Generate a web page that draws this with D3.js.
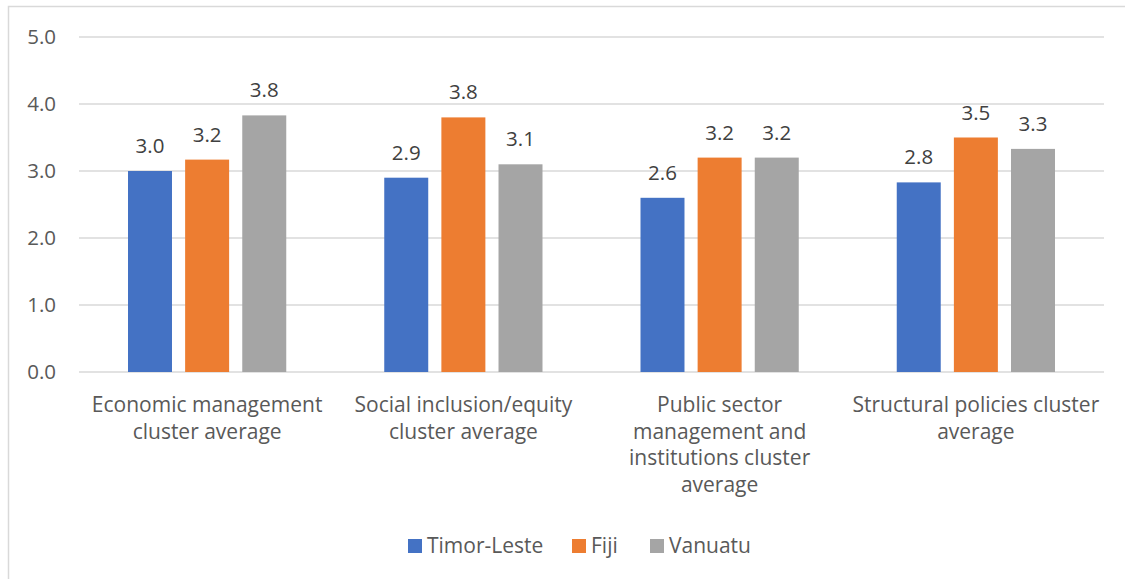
<!DOCTYPE html>
<html>
<head>
<meta charset="utf-8">
<script src="https://cdn.jsdelivr.net/npm/d3@7"></script>
<style>
  body { margin: 0; background: #fff; }
  svg { display: block; font-family: "Open Sans", sans-serif; }
</style>
</head>
<body>
<div id="chart"></div>
<script>
// chart data
var categories = [
  "Economic management\ncluster average",
  "Social inclusion/equity\ncluster average",
  "Public sector\nmanagement and\ninstitutions cluster\naverage",
  "Structural policies cluster\naverage"
];
var seriesNames = ["Timor-Leste", "Fiji", "Vanuatu"];
var timorLeste = [3.0, 2.9, 2.6, 2.83];
var fiji = [3.17, 3.8, 3.2, 3.5];
var vanuatu = [3.83, 3.1, 3.2, 3.33];
var yTicks = [0, 1, 2, 3, 4, 5];

var colors = ["#4472C4", "#ED7D31", "#A5A5A5"];
var seriesValues = [timorLeste, fiji, vanuatu];

var W = 1125, H = 579;
var margin = {top: 37, left: 79, right: 21, bottom: 207};
var width = W - margin.left - margin.right,
    height = H - margin.top - margin.bottom;
var fontSize = 21;

var svg = d3.select("#chart")
  .append("svg")
    .attr("width", W)
    .attr("height", H);

// chart frame (runs off the right and bottom edges)
svg.append("rect")
  .attr("x", 8.5)
  .attr("y", 6.5)
  .attr("width", W)
  .attr("height", H)
  .attr("fill", "#fff")
  .attr("stroke", "#d9d9d9")
  .attr("stroke-width", 1.5);

var g = svg.append("g")
  .attr("transform", "translate(" + margin.left + "," + margin.top + ")");

var x0 = d3.scaleBand()
  .domain(d3.range(categories.length))
  .range([0, width]);

var x1 = d3.scaleBand()
  .domain(d3.range(seriesNames.length))
  .range([49, x0.bandwidth() - 49])
  .paddingInner(0.23);

var y = d3.scaleLinear()
  .domain([0, 5])
  .range([height, 0]);

// gridlines
g.append("g")
  .selectAll("line")
  .data(yTicks)
  .enter()
  .append("line")
    .attr("x1", 0)
    .attr("x2", width)
    .attr("y1", function (d) { return y(d); })
    .attr("y2", function (d) { return y(d); })
    .attr("stroke", "#d9d9d9")
    .attr("stroke-width", 1.5);

// y axis labels
var yAxis = g.append("g")
  .attr("transform", "translate(-23,0)")
  .call(d3.axisLeft(y).tickValues(yTicks).tickFormat(d3.format(".1f")).tickSize(0).tickPadding(0));
yAxis.select(".domain").remove();
yAxis.selectAll("text")
  .attr("font-family", "Open Sans, sans-serif")
  .attr("font-size", 20.5)
  .attr("fill", "#595959");

// bars
var groups = g.append("g")
  .selectAll("g")
  .data(categories)
  .enter()
  .append("g")
    .attr("transform", function (d, i) { return "translate(" + x0(i) + ",0)"; });

var cells = function (d, i) {
  return seriesValues.map(function (s, k) { return {k: k, v: s[i]}; });
};

groups.selectAll("rect")
  .data(cells)
  .enter()
  .append("rect")
    .attr("x", function (d) { return x1(d.k); })
    .attr("y", function (d) { return y(d.v); })
    .attr("width", x1.bandwidth())
    .attr("height", function (d) { return height - y(d.v); })
    .attr("fill", function (d) { return colors[d.k]; });

groups.selectAll("text.val")
  .data(cells)
  .enter()
  .append("text")
    .attr("class", "val")
    .attr("x", function (d) { return x1(d.k) + x1.bandwidth() / 2; })
    .attr("y", function (d) { return y(d.v) - 18; })
    .attr("text-anchor", "middle")
    .attr("font-size", 20.5)
    .attr("fill", "#404040")
    .text(function (d) { return d3.format(".1f")(d.v); });

// category labels
groups.append("text")
  .attr("text-anchor", "middle")
  .attr("font-size", fontSize)
  .attr("fill", "#595959")
  .selectAll("tspan")
  .data(function (d) { return d.split("\n"); })
  .enter()
  .append("tspan")
    .attr("x", x0.bandwidth() / 2)
    .attr("y", function (d, i) { return height + 40 + i * 26.5; })
    .text(function (d) { return d; });

// legend
var legendX = [408, 572, 650];
var legend = svg.append("g")
  .selectAll("g")
  .data(seriesNames)
  .enter()
  .append("g")
    .attr("transform", function (d, i) { return "translate(" + legendX[i] + ",539)"; });
legend.append("rect")
  .attr("width", 14)
  .attr("height", 14)
  .attr("fill", function (d, i) { return colors[i]; });
legend.append("text")
  .attr("x", 19)
  .attr("y", 14)
  .attr("font-size", fontSize)
  .attr("fill", "#595959")
  .text(function (d) { return d; });
</script>
</body>
</html>
